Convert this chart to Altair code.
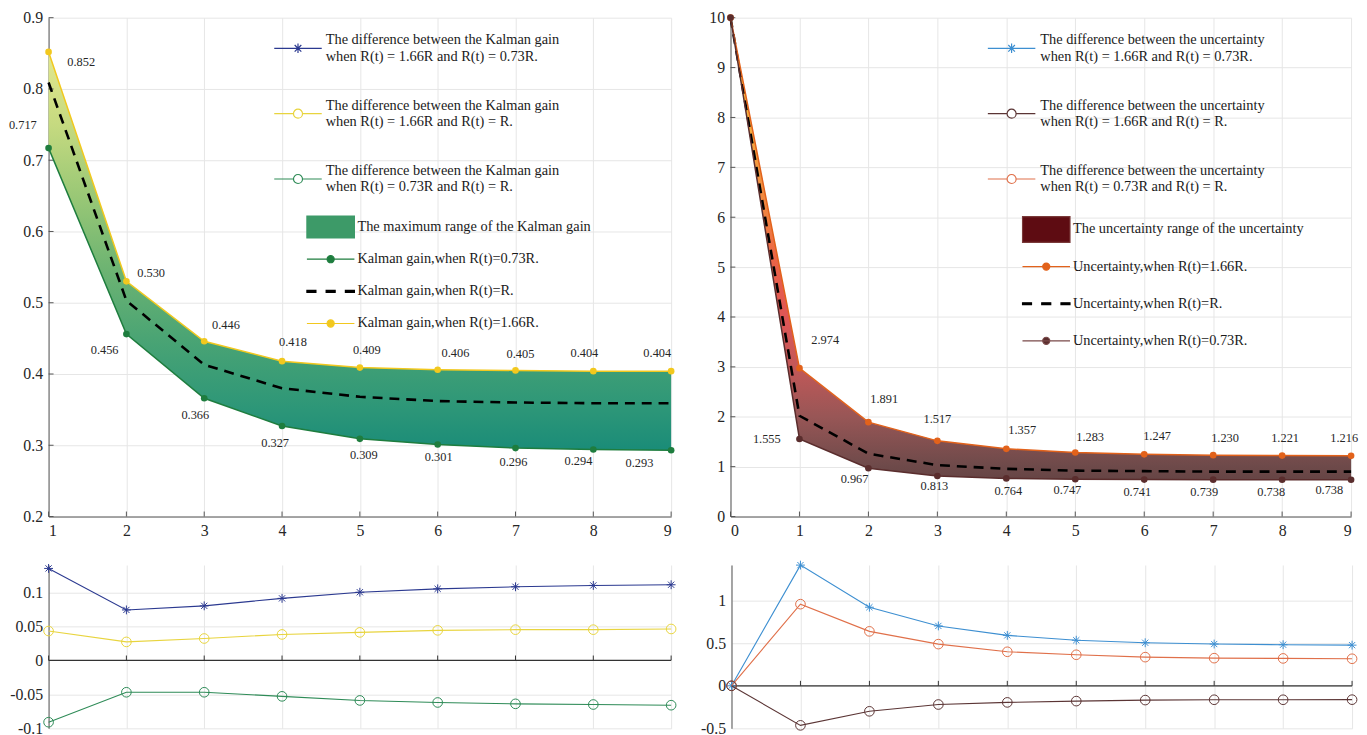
import altair as alt
import pandas as pd

FONT = "Liberation Serif"

# ---------------- data ----------------
k_steps = [1, 2, 3, 4, 5, 6, 7, 8, 9]
k_hi = [0.852, 0.530, 0.446, 0.418, 0.409, 0.406, 0.405, 0.404, 0.404]
k_mid = [0.809, 0.503, 0.413, 0.380, 0.368, 0.362, 0.360, 0.359, 0.359]
k_lo = [0.717, 0.456, 0.366, 0.327, 0.309, 0.301, 0.296, 0.294, 0.293]
kd_hl = [0.135, 0.074, 0.080, 0.091, 0.100, 0.105, 0.108, 0.110, 0.111]
kd_hm = [0.043, 0.027, 0.032, 0.038, 0.041, 0.044, 0.045, 0.045, 0.046]
kd_lm = [-0.091, -0.047, -0.047, -0.053, -0.059, -0.062, -0.064, -0.065, -0.066]

u_steps = [0, 1, 2, 3, 4, 5, 6, 7, 8, 9]
u_hi = [10, 2.974, 1.891, 1.517, 1.357, 1.283, 1.247, 1.230, 1.221, 1.216]
u_mid = [10, 2.02, 1.26, 1.03, 0.955, 0.92, 0.91, 0.90, 0.90, 0.90]
u_lo = [10, 1.555, 0.967, 0.813, 0.764, 0.747, 0.741, 0.739, 0.738, 0.738]
ud_hl = [0, 1.419, 0.924, 0.704, 0.593, 0.536, 0.506, 0.491, 0.483, 0.478]
ud_hm = [0, 0.96, 0.64, 0.49, 0.40, 0.365, 0.337, 0.325, 0.322, 0.318]
ud_lm = [0, -0.465, -0.30, -0.22, -0.195, -0.18, -0.168, -0.164, -0.164, -0.163]

k_yticks = [0.2, 0.3, 0.4, 0.5, 0.6, 0.7, 0.8, 0.9]
u_yticks = [0, 1, 2, 3, 4, 5, 6, 7, 8, 9, 10]
kd_yticks = [-0.1, -0.05, 0, 0.05, 0.1]
ud_yticks = [-0.5, 0, 0.5, 1]

legA_k = [
    "The difference between the Kalman gain|when R(t) = 1.66R and R(t) = 0.73R.",
    "The difference between the Kalman gain|when R(t) = 1.66R and R(t) = R.",
    "The difference between the Kalman gain|when R(t) = 0.73R and R(t) = R.",
]
legB_k = [
    "The maximum range of the Kalman gain",
    "Kalman gain,when R(t)=0.73R.",
    "Kalman gain,when R(t)=R.",
    "Kalman gain,when R(t)=1.66R.",
]
legA_u = [
    "The difference between the uncertainty|when R(t) = 1.66R and R(t) = 0.73R.",
    "The difference between the uncertainty|when R(t) = 1.66R and R(t) = R.",
    "The difference between the uncertainty|when R(t) = 0.73R and R(t) = R.",
]
legB_u = [
    "The uncertainty range of the uncertainty",
    "Uncertainty,when R(t)=1.66R.",
    "Uncertainty,when R(t)=R.",
    "Uncertainty,when R(t)=0.73R.",
]

# ---------------- styles ----------------
C_KHI, C_KLO = "#f2c81e", "#1e7d3e"
C_KD1, C_KD2, C_KD3 = "#2b3990", "#e8d43e", "#2e8b57"
C_UHI, C_ULO = "#e2621b", "#5a2d2d"
C_UD1, C_UD2, C_UD3 = "#3d8fd1", "#5b3535", "#e0704a"
TXT = "#262626"
GRID = "#e6e6e6"
AX = "#555555"

P_STAR = "M0,-1L0,1M-1,0L1,0M-0.7,-0.7L0.7,0.7M-0.7,0.7L0.7,-0.7"
# legend symbols for two-line labels are drawn 8px (1/3 unit) lower so they sit between the lines
P_L_STAR = ("M-1,0.333L1,0.333M0,0.133L0,0.533M-0.2,0.333L0.2,0.333"
            "M-0.14,0.193L0.14,0.473M-0.14,0.473L0.14,0.193")
P_L_OC = ("M-1,0.333L-0.19,0.333M0.19,0.333L1,0.333"
          "M0.19,0.333A0.19,0.19 0 1 1 -0.19,0.333A0.19,0.19 0 1 1 0.19,0.333Z")
P_L_DOT = "M-1,0L1,0M0.15,0A0.15,0.15 0 1 1 -0.15,0A0.15,0.15 0 1 1 0.15,0Z"
P_DASH = ("M-1,-0.04L-0.62,-0.04L-0.62,0.04L-1,0.04Z"
          "M-0.19,-0.04L0.19,-0.04L0.19,0.04L-0.19,0.04Z"
          "M0.62,-0.04L1,-0.04L1,0.04L0.62,0.04Z")
P_RECT_K = "M-1,-0.46L1,-0.46L1,0.46L-1,0.46Z"
P_RECT_U = "M-1,-0.54L1,-0.54L1,0.54L-1,0.54Z"

NEG_LBL = "datum.value < 0 ? '-' + format(-datum.value, '~g') : format(datum.value, '~g')"

K_HI_OFF = [(33, 10), (25, -8), (22, -16), (11, -19), (7, -18), (18, -17), (5, -17), (-9, -18), (-14, -18)]
K_LO_OFF = [(-26, -23), (-22, 16), (-9, 17), (-7, 17), (4, 16), (1, 13), (-2, 14), (-15, 12), (-32, 13)]
U_HI_OFF = [None, (26, -28), (16, -23), (0, -22), (16, -19), (15, -16), (13, -18), (12, -17), (3, -18), (-7, -18)]
U_LO_OFF = [None, (-33, 0), (-14, 11), (-3, 10), (2, 13), (-8, 11), (-7, 13), (-9, 13), (-11, 12), (-22, 10)]

W_L, W_R, H_T, H_B = 629, 627, 504, 165
AXFONT = dict(labelFont=FONT, labelFontSize=16, labelColor=TXT)


def make_x(domain, values, labels=True):
    if labels:
        ax = alt.Axis(values=values, format="d", title=None, grid=True, labelPadding=6,
                      minExtent=26, maxExtent=26, domain=True, **AXFONT)
    else:
        ax = alt.Axis(values=values, title=None, grid=True, labels=False, domain=False,
                      minExtent=0, maxExtent=0)
    return lambda: alt.X("step:Q", scale=alt.Scale(domain=domain, nice=False, zero=False), axis=ax)


def make_y(domain, values, fmt=None, expr=None):
    kw = dict(values=values, title=None, grid=True, labelPadding=6, minExtent=41, maxExtent=41, **AXFONT)
    if fmt:
        kw["format"] = fmt
    if expr:
        kw["labelExpr"] = expr
    ax = alt.Axis(**kw)
    return lambda f: alt.Y(f"{f}:Q", scale=alt.Scale(domain=domain, nice=False, zero=False), axis=ax)


def legend_layer(field, names, strokes, fills, shapes, lx, ly, clip, rowpad, loff):
    leg = alt.Legend(title=None, orient="none", legendX=lx, legendY=ly, padding=0,
                     symbolSize=2304, symbolStrokeWidth=1.2, symbolOpacity=1,
                     labelFont=FONT, labelFontSize=14.5, labelColor="#1a1a1a", labelLimit=600,
                     labelOffset=loff, rowPadding=rowpad, clipHeight=clip,
                     labelExpr="split(datum.label, '|')")
    df = pd.DataFrame({field: names})
    return alt.Chart(df).transform_filter("false").mark_point(filled=True, opacity=1).encode(
        stroke=alt.Stroke(f"{field}:N", scale=alt.Scale(domain=names, range=strokes), legend=leg),
        fill=alt.Fill(f"{field}:N", scale=alt.Scale(domain=names, range=fills), legend=leg),
        shape=alt.Shape(f"{field}:N", scale=alt.Scale(domain=names, range=shapes), legend=leg),
    )


def text_layers(df, X, Y, col, offs):
    out = []
    for s, off in zip(df["step"], offs):
        if off is None:
            continue
        out.append(
            alt.Chart(df).transform_filter(f"datum.step == {s}")
            .mark_text(dx=off[0], dy=off[1], font=FONT, fontSize=12.5, color=TXT)
            .encode(x=X(), y=Y(col), text=alt.Text(f"{col}:Q", format=".3f"))
        )
    return out


RES = dict(stroke="independent", fill="independent", shape="independent")

# ---------------- top-left: Kalman gain ----------------
kdf = pd.DataFrame({"step": k_steps, "hi": k_hi, "mid": k_mid, "lo": k_lo})
kX = make_x([1, 9], k_steps)
kY = make_y([0.2, 0.9], k_yticks, fmt=".1f")
k_grad = alt.Gradient(gradient="linear", x1=0, x2=0, y1=0, y2=1, stops=[
    alt.GradientStop(color="#e3e88f", offset=0),
    alt.GradientStop(color="#c6da80", offset=0.18),
    alt.GradientStop(color="#9ac876", offset=0.36),
    alt.GradientStop(color="#6eb472", offset=0.54),
    alt.GradientStop(color="#4aa474", offset=0.72),
    alt.GradientStop(color="#2c9678", offset=0.9),
    alt.GradientStop(color="#1a8c78", offset=1),
])
kb = alt.Chart(kdf)
tl_layers = [
    kb.mark_area(color=k_grad, opacity=1).encode(x=kX(), y=kY("hi"), y2="lo"),
    alt.Chart(pd.DataFrame({"v": k_yticks})).mark_rule(color=AX).encode(
        y=kY("v"), x=alt.datum(1), x2=alt.datum(1.064)),
    kb.mark_rule(color=AX).encode(x=kX(), y=alt.datum(0.2), y2=alt.datum(0.207)),
    kb.mark_line(color="black", strokeDash=[10, 7], strokeWidth=2.6).encode(x=kX(), y=kY("mid")),
    kb.mark_line(color=C_KLO, strokeWidth=1.5).encode(x=kX(), y=kY("lo")),
    kb.mark_line(color=C_KHI, strokeWidth=1.5).encode(x=kX(), y=kY("hi")),
    kb.mark_circle(color=C_KLO, size=45, opacity=1).encode(x=kX(), y=kY("lo")),
    kb.mark_circle(color=C_KHI, size=45, opacity=1).encode(x=kX(), y=kY("hi")),
]
tl_layers += text_layers(kdf, kX, kY, "hi", K_HI_OFF)
tl_layers += text_layers(kdf, kX, kY, "lo", K_LO_OFF)
tl_layers.append(legend_layer("la", legA_k, [C_KD1, C_KD2, C_KD3],
                              ["transparent", "transparent", "transparent"],
                              [P_L_STAR, P_L_OC, P_L_OC], 227, 6, 34, 26, 3))
tl_layers.append(legend_layer("lb", legB_k, ["#3d9a68", C_KLO, "black", C_KHI],
                              ["#3d9a68", C_KLO, "black", C_KHI],
                              [P_RECT_K, P_L_DOT, P_DASH, P_L_DOT], 260, 197.5, 28, 4.5, 2))
top_left = alt.layer(*tl_layers).resolve_scale(**RES).properties(width=W_L, height=H_T)

# ---------------- top-right: uncertainty ----------------
udf = pd.DataFrame({"step": u_steps, "hi": u_hi, "mid": u_mid, "lo": u_lo})
uX = make_x([0, 9], u_steps)
uY = make_y([0, 10], u_yticks, fmt="d")
u_grad = alt.Gradient(gradient="linear", x1=0, x2=0, y1=0, y2=1, stops=[
    alt.GradientStop(color="#f7d84a", offset=0),
    alt.GradientStop(color="#f5b040", offset=0.216),
    alt.GradientStop(color="#f08040", offset=0.43),
    alt.GradientStop(color="#ea6048", offset=0.54),
    alt.GradientStop(color="#de5656", offset=0.65),
    alt.GradientStop(color="#c25858", offset=0.756),
    alt.GradientStop(color="#985656", offset=0.864),
    alt.GradientStop(color="#6e4a4a", offset=0.97),
    alt.GradientStop(color="#664444", offset=1),
])
ub = alt.Chart(udf)
tr_layers = [
    ub.mark_area(color=u_grad, opacity=1).encode(x=uX(), y=uY("hi"), y2="lo"),
    alt.Chart(pd.DataFrame({"v": u_yticks})).mark_rule(color=AX).encode(
        y=uY("v"), x=alt.datum(0), x2=alt.datum(0.07)),
    ub.mark_rule(color=AX).encode(x=uX(), y=alt.datum(0), y2=alt.datum(0.1)),
    ub.mark_line(color="black", strokeDash=[10, 7], strokeWidth=2.6).encode(x=uX(), y=uY("mid")),
    ub.mark_line(color=C_UHI, strokeWidth=1.5).encode(x=uX(), y=uY("hi")),
    ub.mark_line(color=C_ULO, strokeWidth=1.5).encode(x=uX(), y=uY("lo")),
    ub.mark_circle(color=C_UHI, size=45, opacity=1).encode(x=uX(), y=uY("hi")),
    ub.mark_circle(color=C_ULO, size=45, opacity=1).encode(x=uX(), y=uY("lo")),
]
tr_layers += text_layers(udf, uX, uY, "hi", U_HI_OFF)
tr_layers += text_layers(udf, uX, uY, "lo", U_LO_OFF)
tr_layers.append(legend_layer("ra", legA_u, [C_UD1, C_UD2, C_UD3],
                              ["transparent", "transparent", "transparent"],
                              [P_L_STAR, P_L_OC, P_L_OC], 259, 6, 34, 26, 4))
tr_layers.append(legend_layer("rb", legB_u, ["#7a3a3a", C_UHI, "black", "#7a4a4a"],
                              ["#5e0c12", C_UHI, "black", C_ULO],
                              [P_RECT_U, P_L_DOT, P_DASH, P_L_DOT], 294, 200, 28, 9.5, 2))
top_right = alt.layer(*tr_layers).resolve_scale(**RES).properties(width=W_R, height=H_T)

# ---------------- bottom-left: Kalman gain differences ----------------
kddf = pd.DataFrame({"step": k_steps, "d1": kd_hl, "d2": kd_hm, "d3": kd_lm})
kdX = make_x([1, 9], k_steps, labels=False)
kdY = make_y([-0.1, 0.14], kd_yticks, expr=NEG_LBL)
kdb = alt.Chart(kddf)
bl_layers = [
    alt.Chart(pd.DataFrame({"z": [0]})).mark_rule(color="#333333", strokeWidth=1.2).encode(y=kdY("z")),
    kdb.mark_rule(color="#333333").encode(x=kdX(), y=alt.datum(0), y2=alt.datum(0.007)),
]
for col, c, shp, sz in [("d1", C_KD1, P_STAR, 80), ("d2", C_KD2, "circle", 95), ("d3", C_KD3, "circle", 95)]:
    bl_layers.append(kdb.mark_line(color=c, strokeWidth=1.1).encode(x=kdX(), y=kdY(col)))
    bl_layers.append(kdb.mark_point(color=c, shape=shp, size=sz, filled=False, strokeWidth=1, opacity=1)
                     .encode(x=kdX(), y=kdY(col)))
bottom_left = alt.layer(*bl_layers).properties(width=W_L, height=H_B)

# ---------------- bottom-right: uncertainty differences ----------------
uddf = pd.DataFrame({"step": u_steps, "d1": ud_hl, "d2": ud_hm, "d3": ud_lm})
udX = make_x([0, 9], u_steps, labels=False)
udY = make_y([-0.5, 1.42], ud_yticks, expr=NEG_LBL)
udb = alt.Chart(uddf)
br_layers = [
    alt.Chart(pd.DataFrame({"z": [0]})).mark_rule(color="#333333", strokeWidth=1.2).encode(y=udY("z")),
    udb.mark_rule(color="#333333").encode(x=udX(), y=alt.datum(0), y2=alt.datum(0.058)),
]
for col, c, shp, sz in [("d1", C_UD1, P_STAR, 80), ("d2", C_UD3, "circle", 95), ("d3", C_UD2, "circle", 95)]:
    br_layers.append(udb.mark_line(color=c, strokeWidth=1.1).encode(x=udX(), y=udY(col)))
    br_layers.append(udb.mark_point(color=c, shape=shp, size=sz, filled=False, strokeWidth=1, opacity=1)
                     .encode(x=udX(), y=udY(col)))
bottom_right = alt.layer(*br_layers).properties(width=W_R, height=H_B)

top = alt.hconcat(top_left, top_right, spacing=13).resolve_scale(**RES)
bottom = alt.hconcat(bottom_left, bottom_right, spacing=13).resolve_scale(**RES)

chart = (
    alt.vconcat(top, bottom, spacing=16)
    .resolve_scale(**RES)
    .properties(padding={"left": 0, "right": 0, "top": -2, "bottom": 0}, background="white")
    .configure_view(stroke=None)
    .configure_axis(labelFont=FONT, labelFontSize=16, labelColor=TXT, gridColor=GRID, gridWidth=1,
                    domainColor=AX, domainWidth=1, ticks=False, tickSize=0)
)

chart.save("out.html", embed_options={"renderer": "svg", "actions": False})
